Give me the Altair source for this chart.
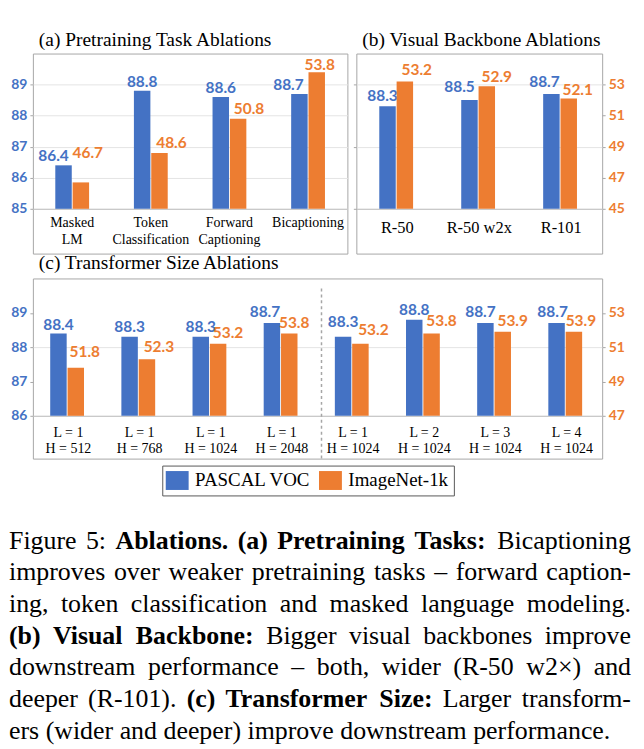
import json
import altair as alt
import pandas as pd

# ---------------- data ----------------
SERIES = ["PASCAL VOC", "ImageNet-1k"]

TASKS = [["Masked", "LM"], ["Token", "Classification"], ["Forward", "Captioning"], ["Bicaptioning"]]
A_VOC = [86.4, 88.8, 88.6, 88.7]
A_IN1K = [46.7, 48.6, 50.8, 53.8]

BACKBONES = [["R-50"], ["R-50 w2x"], ["R-101"]]
B_VOC = [88.3, 88.5, 88.7]
B_IN1K = [53.2, 52.9, 52.1]

LAYERS = [1, 1, 1, 1, 1, 2, 3, 4]
HIDDEN = [512, 768, 1024, 2048, 1024, 1024, 1024, 1024]
C_VOC = [88.4, 88.3, 88.3, 88.7, 88.3, 88.8, 88.7, 88.7]
C_IN1K_BAR = [49.8, 50.3, 51.2, 51.8, 51.2, 51.8, 51.9, 51.9]    # bar heights read against the right axis
C_IN1K_TEXT = [51.8, 52.3, 53.2, 53.8, 53.2, 53.8, 53.9, 53.9]   # printed value labels

A_LEFT_TICKS = [85, 86, 87, 88, 89]
B_LEFT_GRID = [85, 87, 89]
B_RIGHT_TICKS = [45, 47, 49, 51, 53]
C_LEFT_TICKS = [86, 87, 88, 89]
C_RIGHT_TICKS = [47, 49, 51, 53]

CAPTION = [
    [("Figure 5: ", False), ("Ablations. (a) Pretraining Tasks:", True), (" Bicaptioning", False)],
    [("improves over weaker pretraining tasks \u2013 forward caption-", False)],
    [("ing, token classification and masked language modeling.", False)],
    [("(b) Visual Backbone:", True), (" Bigger visual backbones improve", False)],
    [("downstream performance \u2013 both, wider (R-50 w2\u00d7) and", False)],
    [("deeper (R-101). ", False), ("(c) Transformer Size:", True), (" Larger transform-", False)],
    [("ers (wider and deeper) improve downstream performance.", False)],
]

# ---------------- style ----------------
BLUE, ORANGE = "#4472C4", "#ED7D31"
SANS = "Lato"
SERIF = "Liberation Serif"
FRAME = "#a6a6a6"
GRID = "#e4e4e4"
BASE = "#bfbfbf"

# label nudges (dx, gap above bar) per label
A_DX_B, A_GAP_B = [-10, 0, 0, -11], [4, 4, 4, 4]
A_DX_O, A_GAP_O = [7, 12, 11, 3], [25, 5, 5, 2]
B_DX_B, B_GAP_B = [-5, -10, -7], [5, 8, 7]
B_DX_O, B_GAP_O = [12, 10, 9], [7, 4, 4]
C_DX_B, C_GAP_B = [0, 0, 0, -7, 0, 0, -5, -4], [3, 5, 5, 6, 10, 5, 6, 6]
C_DX_O, C_GAP_O = [9, 12, 10, 5, 13, 10, 10, 7], [11, 7, 6, 5, 9, 7, 6, 6]


def yaxis(orient, values, color=None, labels=True, grid=False, grid_opacity=None):
    kw = dict(orient=orient, values=values, title=None, domain=False, tickSize=3,
              tickColor=FRAME, grid=grid, gridColor=GRID, labels=labels)
    if labels:
        kw.update(labelFont=SANS, labelFontWeight="bold", labelFontSize=14,
                  labelColor=color, labelPadding=3, format="d")
    if grid_opacity is not None:
        kw["gridOpacity"] = grid_opacity
    return alt.Axis(**kw)


def build_panel(title, title_offset, cats, voc, in1k_bar, in1k_text, width, height, base_px,
                ldom, rdom, pad_inner, left_axis, right_axis, xlab_size, xlab_pad, xlab_lh,
                dx_b, gap_b, dx_o, gap_o, legend=None, extras=()):
    n = len(cats)
    idx = list(range(n))
    xs = alt.Scale(domain=idx, paddingInner=pad_inner, paddingOuter=pad_inner / 2)
    xos = alt.Scale(domain=SERIES, paddingInner=0.05, paddingOuter=0)
    ls = alt.Scale(domain=ldom, range=[base_px, 0], nice=False, zero=False)
    rs = alt.Scale(domain=rdom, range=[base_px, 0], nice=False, zero=False)
    xaxis = alt.Axis(orient="bottom", offset=-(height - base_px), ticks=False, tickSize=0,
                     domainColor=BASE, labelFont=SERIF, labelFontSize=xlab_size, labelColor="black",
                     labelPadding=xlab_pad, labelLineHeight=xlab_lh, labelAngle=0,
                     labelOverlap=False, labelExpr=json.dumps(cats) + "[datum.value]",
                     title=None, grid=False)
    dfb = pd.DataFrame({"idx": idx, "series": SERIES[0], "value": voc,
                        "text": [f"{v:.1f}" for v in voc]})
    dfo = pd.DataFrame({"idx": idx, "series": SERIES[1], "value": in1k_bar,
                        "text": [f"{v:.1f}" for v in in1k_text]})

    def bars(df, yscale, axis, base, color):
        enc = dict(
            x=alt.X("idx:O", scale=xs, axis=xaxis),
            xOffset=alt.XOffset("series:N", scale=xos),
            y=alt.Y("value:Q", scale=yscale, axis=axis),
            y2=alt.datum(base),
        )
        if legend is not None:
            enc["color"] = alt.Color("series:N", scale=alt.Scale(domain=SERIES, range=[BLUE, ORANGE]),
                                     legend=legend)
            ch = alt.Chart(df).mark_bar()
        else:
            ch = alt.Chart(df).mark_bar(color=color)
        return ch.encode(**enc)

    def labels(df, yscale, color, dxs, gaps):
        out = []
        for i in range(len(df)):
            out.append(
                alt.Chart(df.iloc[[i]]).mark_text(
                    font=SANS, fontWeight="bold", fontSize=15.5, color=color,
                    baseline="alphabetic", dx=dxs[i], dy=-gaps[i]
                ).encode(
                    x=alt.X("idx:O", scale=xs),
                    xOffset=alt.XOffset("series:N", scale=xos),
                    y=alt.Y("value:Q", scale=yscale),
                    text="text:N",
                )
            )
        return out

    blue = alt.layer(bars(dfb, ls, left_axis, ldom[0], BLUE), *labels(dfb, ls, BLUE, dx_b, gap_b))
    orange = alt.layer(bars(dfo, rs, right_axis, rdom[0], ORANGE),
                       *labels(dfo, rs, ORANGE, dx_o, gap_o))
    return alt.layer(blue, orange, *extras).resolve_scale(y="independent").properties(
        width=width, height=height,
        title=alt.TitleParams(text=title, anchor="start", frame="group", font=SERIF, fontSize=19.5,
                              fontWeight="normal", color="black", baseline="alphabetic",
                              offset=title_offset, dx=6),
    )


# ---------------- panel (a) ----------------
panel_a = build_panel(
    "(a) Pretraining Task Ablations", -12, TASKS, A_VOC, A_IN1K, A_IN1K,
    316, 201, 156, [85, 90], [45, 55], 0.57,
    yaxis("left", A_LEFT_TICKS, BLUE, grid=True), None,
    14, 7, 17, A_DX_B, A_GAP_B, A_DX_O, A_GAP_O,
)

# ---------------- panel (b) ----------------
panel_b = build_panel(
    "(b) Visual Backbone Ablations", -12, BACKBONES, B_VOC, B_IN1K, B_IN1K,
    247, 201, 156, [85, 90], [45, 55], 0.56,
    yaxis("left", B_LEFT_GRID, labels=False, grid=True),
    yaxis("right", B_RIGHT_TICKS, ORANGE),
    16.5, 11, 17, B_DX_B, B_GAP_B, B_DX_O, B_GAP_O,
)

# ---------------- panel (c) ----------------
c_cats = [[f"L = {l}", f"H = {h}"] for l, h in zip(LAYERS, HIDDEN)]
divider = alt.Chart(pd.DataFrame({"d": [0]})).mark_rule(
    color=FRAME, strokeDash=[3, 3], strokeWidth=1.5
).encode(x=alt.value(290), y=alt.value(10), y2=alt.value(181))

legend = alt.Legend(
    orient="none", legendX=130, legendY=188, direction="horizontal", title=None,
    symbolType="M-1.15,-0.95L1.15,-0.95L1.15,0.95L-1.15,0.95Z", symbolSize=400,
    symbolStrokeWidth=0, symbolOpacity=1, labelFont=SERIF, labelFontSize=19,
    labelColor="black", labelOffset=8, columnPadding=8, padding=5,
    strokeColor="#595959", fillColor="white", labelLimit=300,
)

panel_c = build_panel(
    "(c) Transformer Size Ablations", -10, c_cats, C_VOC, C_IN1K_BAR, C_IN1K_TEXT,
    572, 181, 138, [86, 90], [47, 55], 0.487,
    yaxis("left", C_LEFT_TICKS, BLUE, grid=True,
          grid_opacity={"condition": {"test": "datum.value === 87 || datum.value === 89", "value": 0},
                        "value": 1}),
    yaxis("right", C_RIGHT_TICKS, ORANGE),
    14, 10, 16, C_DX_B, C_GAP_B, C_DX_O, C_GAP_O,
    legend=legend, extras=(divider,),
)

# ---------------- caption (justified with Times metrics) ----------------
R_W = {' ': 250, '(': 333, ')': 333, ',': 250, '-': 333, '.': 250, ':': 278, '\u2013': 500, '\u00d7': 564,
       'A': 722, 'B': 667, 'C': 667, 'D': 722, 'E': 611, 'F': 556, 'G': 722, 'H': 722, 'I': 333,
       'J': 389, 'K': 722, 'L': 611, 'M': 889, 'N': 722, 'O': 722, 'P': 556, 'Q': 722, 'R': 667,
       'S': 556, 'T': 611, 'U': 722, 'V': 722, 'W': 944, 'X': 722, 'Y': 722, 'Z': 611,
       'a': 444, 'b': 500, 'c': 444, 'd': 500, 'e': 444, 'f': 333, 'g': 500, 'h': 500, 'i': 278,
       'j': 278, 'k': 500, 'l': 278, 'm': 778, 'n': 500, 'o': 500, 'p': 500, 'q': 500, 'r': 333,
       's': 389, 't': 278, 'u': 500, 'v': 500, 'w': 722, 'x': 500, 'y': 500, 'z': 444}
B_W = {' ': 250, '(': 333, ')': 333, ',': 250, '-': 333, '.': 250, ':': 333,
       'A': 722, 'B': 667, 'C': 722, 'D': 722, 'E': 667, 'F': 611, 'G': 778, 'H': 778, 'I': 389,
       'J': 500, 'K': 778, 'L': 667, 'M': 944, 'N': 722, 'O': 778, 'P': 611, 'Q': 778, 'R': 722,
       'S': 556, 'T': 667, 'U': 722, 'V': 722, 'W': 1000, 'X': 722, 'Y': 722, 'Z': 667,
       'a': 500, 'b': 556, 'c': 444, 'd': 556, 'e': 444, 'f': 333, 'g': 500, 'h': 556, 'i': 278,
       'j': 333, 'k': 556, 'l': 278, 'm': 833, 'n': 556, 'o': 500, 'p': 556, 'q': 556, 'r': 444,
       's': 389, 't': 333, 'u': 556, 'v': 500, 'w': 722, 'x': 500, 'y': 500, 'z': 444}

CAP_FS, CAP_X0, CAP_W, CAP_Y0, CAP_LH = 26, -24, 625, 52.5, 31.8


def text_w(s, bold):
    tbl = B_W if bold else R_W
    return sum(tbl.get(ch, 500) for ch in s) * CAP_FS / 1000


rows = []
for li, segs in enumerate(CAPTION):
    words = [(w, b) for seg, b in segs for w in seg.split()]
    widths = [text_w(w, b) for w, b in words]
    if li < len(CAPTION) - 1:
        gap = (CAP_W - sum(widths)) / (len(words) - 1)
    else:
        gap = 250 * CAP_FS / 1000
    x = CAP_X0
    for (w, b), wd in zip(words, widths):
        rows.append({"w": w, "x": x, "y": CAP_Y0 + li * CAP_LH, "bold": b})
        x += wd + gap
cap_df = pd.DataFrame(rows)

cap_base = alt.Chart(cap_df)
cap_enc = dict(x=alt.X("x:Q", scale=None, axis=None), y=alt.Y("y:Q", scale=None, axis=None), text="w:N")
cap_reg = cap_base.transform_filter("!datum.bold").mark_text(
    align="left", baseline="alphabetic", font=SERIF, fontSize=CAP_FS, color="black").encode(**cap_enc)
cap_bold = cap_base.transform_filter("datum.bold").mark_text(
    align="left", baseline="alphabetic", font=SERIF, fontSize=CAP_FS, fontWeight="bold",
    color="black").encode(**cap_enc)
caption = alt.layer(cap_reg, cap_bold).properties(
    width=572, height=240, view=alt.ViewBackground(stroke="transparent"))

# ---------------- assemble ----------------
top = alt.hconcat(panel_a, panel_b, spacing=9, bounds="flush")
chart = alt.vconcat(top, panel_c, caption, spacing=-2).resolve_scale(
    color="independent"
).properties(
    padding={"left": 0, "top": 20, "right": 4, "bottom": 0}
).configure_view(stroke=FRAME, strokeWidth=1)

chart.save("out.html", embed_options={"renderer": "svg", "actions": False})
